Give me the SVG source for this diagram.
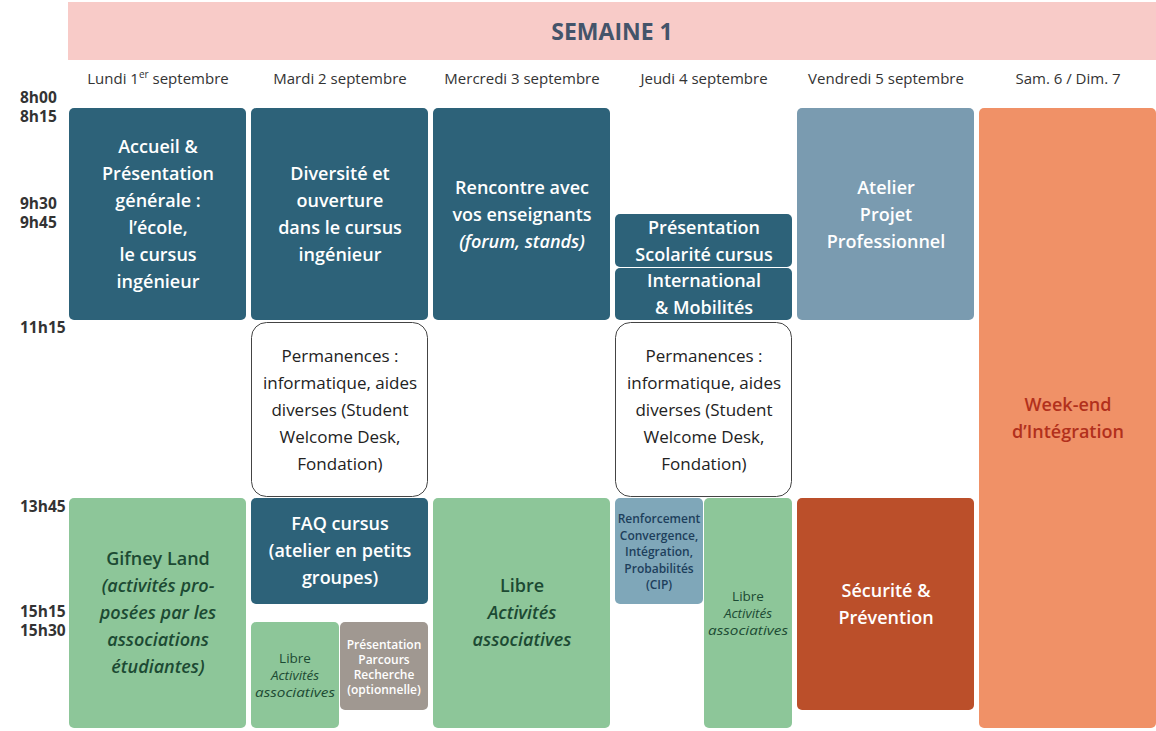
<svg xmlns="http://www.w3.org/2000/svg" width="1156" height="731" viewBox="0 0 1156 731">
<style>
text{font-family:"Open Sans","Noto Sans",sans-serif;text-anchor:middle}
.day{font-size:15px;fill:#333}
.time{font-size:15.5px;font-weight:bold;fill:#333;text-anchor:start}
.dk{fill:#2d6279}
.wt{fill:#fff;font-weight:600;font-size:18px}
.gr{fill:#8dc699}
.gt{fill:#1c4a33;font-size:18px;font-weight:600}
.st{fill:#1c4a33;font-size:13.5px;font-weight:500}
.perm{fill:#fff;stroke:#444;stroke-width:1}
.pt{fill:#222;font-size:17px}
</style>
<rect x="68" y="2" width="1088" height="58" fill="#f8cbc8"/>
<text x="612" y="40" font-size="23" font-weight="bold" fill="#44546a">SEMAINE 1</text>
<g class="day">
<text class="day" x="158" y="84">Lundi 1<tspan font-size="10" dy="-6">er</tspan><tspan dy="6"> septembre</tspan></text>
<text class="day" x="340" y="84">Mardi 2 septembre</text>
<text class="day" x="522" y="84">Mercredi 3 septembre</text>
<text class="day" x="704" y="84">Jeudi 4 septembre</text>
<text class="day" x="886" y="84">Vendredi 5 septembre</text>
<text class="day" x="1068" y="84">Sam. 6 / Dim. 7</text>
</g>
<g>
<text class="time" x="20" y="103">8h00</text>
<text class="time" x="20" y="122">8h15</text>
<text class="time" x="20" y="209">9h30</text>
<text class="time" x="20" y="228">9h45</text>
<text class="time" x="20" y="333">11h15</text>
<text class="time" x="20" y="512">13h45</text>
<text class="time" x="20" y="617">15h15</text>
<text class="time" x="20" y="636">15h30</text>
</g>
<g id="lun1"><rect class="dk" x="69" y="108" width="177" height="212" rx="5"/>
<text class="wt" x="158" y="153">Accueil &amp;<tspan x="158" dy="27">Présentation</tspan><tspan x="158" dy="27">générale :</tspan><tspan x="158" dy="27">l’école,</tspan><tspan x="158" dy="27">le cursus</tspan><tspan x="158" dy="27">ingénieur</tspan></text></g>
<g id="mar1"><rect class="dk" x="251" y="108" width="177" height="212" rx="5"/>
<text class="wt" x="340" y="180">Diversité et<tspan x="340" dy="27">ouverture</tspan><tspan x="340" dy="27">dans le cursus</tspan><tspan x="340" dy="27">ingénieur</tspan></text></g>
<g id="mer1"><rect class="dk" x="433" y="108" width="177" height="212" rx="5"/>
<text class="wt" x="522" y="194">Rencontre avec<tspan x="522" dy="27">vos enseignants</tspan><tspan x="522" dy="27" font-style="italic">(forum, stands)</tspan></text></g>
<g id="jeu1"><rect class="dk" x="615" y="214" width="177" height="53" rx="5"/>
<text class="wt" x="704" y="234">Présentation<tspan x="704" dy="27">Scolarité cursus</tspan></text></g>
<g id="jeu2"><rect class="dk" x="615" y="268" width="177" height="52" rx="5"/>
<text class="wt" x="704" y="287">International<tspan x="704" dy="27">&amp; Mobilités</tspan></text></g>
<g id="ven1"><rect x="797" y="108" width="177" height="212" rx="5" fill="#7a9bb0"/>
<text class="wt" x="886" y="194">Atelier<tspan x="886" dy="27">Projet</tspan><tspan x="886" dy="27">Professionnel</tspan></text></g>
<g id="we"><rect x="979" y="108" width="177" height="620" rx="5" fill="#f09167"/>
<text x="1068" y="411" font-size="18" font-weight="600" fill="#b2301c">Week-end<tspan x="1068" dy="27">d’Intégration</tspan></text></g>
<g id="mar2"><rect class="perm" x="251.5" y="322.5" width="176" height="174" rx="15"/>
<text class="pt" x="340" y="362">Permanences :<tspan x="340" dy="27">informatique, aides</tspan><tspan x="340" dy="27">diverses (Student</tspan><tspan x="340" dy="27">Welcome Desk,</tspan><tspan x="340" dy="27">Fondation)</tspan></text></g>
<g id="jeu3"><rect class="perm" x="615.5" y="322.5" width="176" height="174" rx="15"/>
<text class="pt" x="704" y="362">Permanences :<tspan x="704" dy="27">informatique, aides</tspan><tspan x="704" dy="27">diverses (Student</tspan><tspan x="704" dy="27">Welcome Desk,</tspan><tspan x="704" dy="27">Fondation)</tspan></text></g>
<g id="lun2"><rect class="gr" x="69" y="498" width="177" height="230" rx="5"/>
<text class="gt" x="158" y="565">Gifney Land<tspan x="158" dy="27" font-style="italic">(activités pro-</tspan><tspan x="158" dy="27" font-style="italic">posées par les</tspan><tspan x="158" dy="27" font-style="italic">associations</tspan><tspan x="158" dy="27" font-style="italic">étudiantes)</tspan></text></g>
<g id="mar3"><rect class="dk" x="251" y="498" width="177" height="106" rx="5"/>
<text class="wt" x="340" y="530">FAQ cursus<tspan x="340" dy="27">(atelier en petits</tspan><tspan x="340" dy="27">groupes)</tspan></text></g>
<g id="mar4"><rect class="gr" x="251" y="622" width="88" height="106" rx="5"/>
<text class="st" x="295" y="663">Libre</text>
<text class="st" x="295" y="680" font-style="italic">Activités</text>
<text class="st" x="295" y="697" font-style="italic" textLength="80" lengthAdjust="spacingAndGlyphs">associatives</text></g>
<g id="mar5"><rect x="340" y="622" width="88" height="88" rx="5" fill="#a09891"/>
<text x="384" y="649" font-size="12" font-weight="600" fill="#fff">Présentation<tspan x="384" dy="15">Parcours</tspan><tspan x="384" dy="15">Recherche</tspan><tspan x="384" dy="15">(optionnelle)</tspan></text></g>
<g id="mer2"><rect class="gr" x="433" y="498" width="177" height="230" rx="5"/>
<text class="gt" x="522" y="592">Libre<tspan x="522" dy="27" font-style="italic">Activités</tspan><tspan x="522" dy="27" font-style="italic">associatives</tspan></text></g>
<g id="jeu4"><rect x="615" y="498" width="88" height="106" rx="5" fill="#7fa7b9"/>
<text x="659" y="523" font-size="12" font-weight="600" fill="#1d3f5c">Renforcement<tspan x="659" dy="16.5">Convergence,</tspan><tspan x="659" dy="16.5">Intégration,</tspan><tspan x="659" dy="16.5">Probabilités</tspan><tspan x="659" dy="16.5">(CIP)</tspan></text></g>
<g id="jeu5"><rect class="gr" x="704" y="498" width="88" height="230" rx="5"/>
<text class="st" x="748" y="601">Libre</text>
<text class="st" x="748" y="618" font-style="italic">Activités</text>
<text class="st" x="748" y="635" font-style="italic" textLength="80" lengthAdjust="spacingAndGlyphs">associatives</text></g>
<g id="ven2"><rect x="797" y="498" width="177" height="212" rx="5" fill="#bb4f2a"/>
<text class="wt" x="886" y="597">Sécurité &amp;<tspan x="886" dy="27">Prévention</tspan></text></g>
<g id="connectors"></g>
</svg>
